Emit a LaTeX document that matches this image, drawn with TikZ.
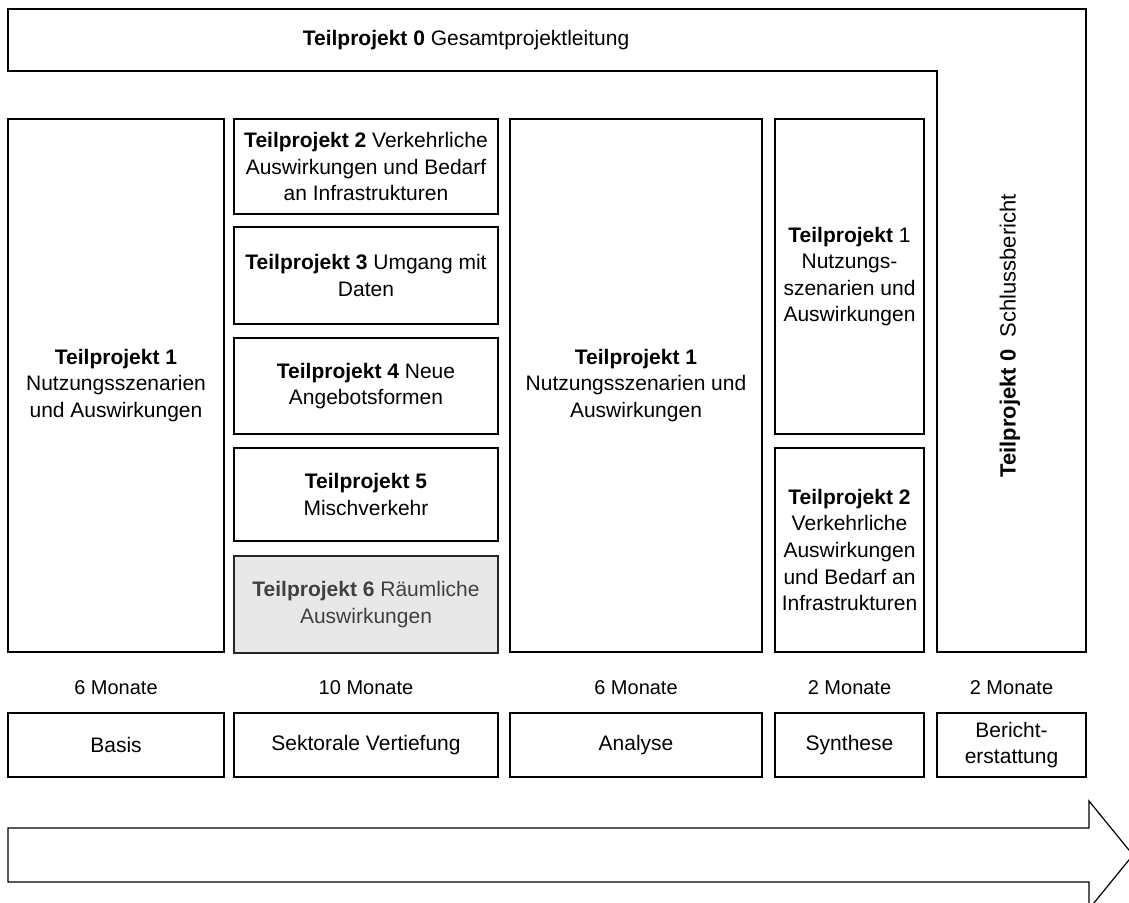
\documentclass[tikz,border=0pt]{standalone}
\usepackage{fontspec}
\setmainfont{Liberation Sans}
\begin{document}
\begin{tikzpicture}[x=0.5pt,y=-0.5pt,
  every node/.style={font=\fontsize{10.5}{13.3}\selectfont, align=center, inner sep=0pt},
  box/.style={draw=black, line width=1.2pt, fill=white, rectangle},
  shadebox/.style={draw=black!85, line width=1.3pt, fill=black!9, rectangle, text=black!75},
  lbl/.style={font=\fontsize{10}{12}\selectfont}
]
\useasboundingbox (0,0) rectangle (1129,903);
\clip (0,0) rectangle (1129,903);
% L-shaped Teilprojekt 0
\draw[line width=1.3pt] (8,9) -- (1086,9) -- (1086,652) -- (937,652) -- (937,71) -- (8,71) -- cycle;
\node (tp0) at (466,40) {\textbf{Teilprojekt 0} Gesamtprojektleitung};
\node[rotate=90, font=\fontsize{11}{13.3}\selectfont] (tp0s) at (1010,336) {\textbf{Teilprojekt 0}\ \ Schlussbericht};
% column 1
\node[box, minimum width=108pt, minimum height=266.5pt] (c1) at (116,385.5)
  {\textbf{Teilprojekt 1}\\Nutzungsszenarien\\und Auswirkungen};
% column 2
\node[box, minimum width=132pt, minimum height=47.5pt] (tp2) at (366,166.5)
  {\textbf{Teilprojekt 2} Verkehrliche\\Auswirkungen und Bedarf\\an Infrastrukturen};
\node[box, minimum width=132pt, minimum height=48.5pt] (tp3) at (366,275.5)
  {\textbf{Teilprojekt 3} Umgang mit\\Daten};
\node[box, minimum width=132pt, minimum height=48pt] (tp4) at (366,386)
  {\textbf{Teilprojekt 4} Neue\\Angebotsformen};
\node[box, minimum width=132pt, minimum height=46.5pt] (tp5) at (366,494.5)
  {\textbf{Teilprojekt 5}\\Mischverkehr};
\node[shadebox, minimum width=132pt, minimum height=48.5pt] (tp6) at (366,604.5)
  {\textbf{Teilprojekt 6} Räumliche\\Auswirkungen};
% column 3
\node[box, minimum width=126pt, minimum height=266.5pt] (c3) at (636,385.5)
  {\textbf{Teilprojekt 1}\\Nutzungsszenarien und\\Auswirkungen};
% column 4
\node[box, minimum width=74.5pt, minimum height=157.5pt] (c4a) at (849.5,276.5)
  {\textbf{Teilprojekt} 1\\Nutzungs-\\szenarien und\\Auswirkungen};
\node[box, minimum width=74.5pt, minimum height=102pt] (c4b) at (849.5,550)
  {\textbf{Teilprojekt 2}\\Verkehrliche\\Auswirkungen\\und Bedarf an\\Infrastrukturen};
% durations
\node[lbl] (d1) at (116,688) {6 Monate};
\node[lbl] (d2) at (366,688) {10 Monate};
\node[lbl] (d3) at (636,688) {6 Monate};
\node[lbl] (d4) at (849.5,688) {2 Monate};
\node[lbl] (d5) at (1011.5,688) {2 Monate};
% phases
\node[box, minimum width=108pt, minimum height=32pt] (p1) at (116,745) {Basis};
\node[box, minimum width=132pt, minimum height=32pt] (p2) at (366,745) {Sektorale Vertiefung};
\node[box, minimum width=126pt, minimum height=32pt] (p3) at (636,745) {Analyse};
\node[box, minimum width=74.5pt, minimum height=32pt] (p4) at (849.5,745) {Synthese};
\node[box, minimum width=74.5pt, minimum height=32pt] (p5) at (1011.5,745) {Bericht-\\erstattung};
% time arrow
\draw[line width=0.6pt, fill=white] (8,828) -- (1089,828) -- (1089,801) -- (1133,855) -- (1089,909) -- (1089,882) -- (8,882) -- cycle;
\end{tikzpicture}
\end{document}
